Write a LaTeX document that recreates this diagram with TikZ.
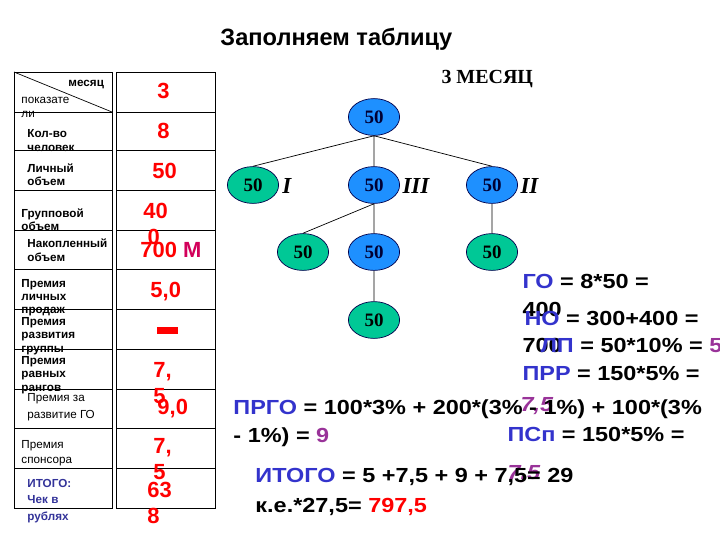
\documentclass[tikz,border=0pt]{standalone}
\usepackage{fontspec}
\setmainfont{Liberation Sans}
\newfontfamily\serifbold{Liberation Serif}
\newfontfamily\formfont[FakeStretch=1.15]{Liberation Sans}
\usetikzlibrary{shapes.geometric}
\definecolor{treeblue}{RGB}{30,144,255}
\definecolor{treegreen}{RGB}{0,200,150}
\definecolor{labelblue}{RGB}{51,51,204}
\definecolor{navy}{RGB}{51,51,153}
\definecolor{purple5}{RGB}{153,51,153}
\definecolor{crimsonM}{RGB}{210,0,90}
\tikzset{
  lbl/.style={anchor=base west,inner sep=0pt,align=left,font=\fontsize{8.3}{9.6}\selectfont},
  val/.style={anchor=base west,inner sep=0pt,align=left,text=red,font=\bfseries\fontsize{15.6}{18.4}\selectfont},
  frm/.style={anchor=base west,inner sep=0pt,font=\formfont\bfseries\fontsize{14.5}{17}\selectfont},
  bubble/.style={ellipse,draw=black!70!blue,line width=0.5pt,minimum width=1.28cm,minimum height=0.92cm,inner sep=0pt,font=\serifbold\bfseries\fontsize{13.5}{14}\selectfont},
  blue50/.style={bubble,fill=treeblue,text=black!80!blue},
  green50/.style={bubble,fill=treegreen},
  rank/.style={anchor=base west,inner sep=0pt,font=\serifbold\bfseries\itshape\fontsize{16.3}{18}\selectfont}
}
\begin{document}
\begin{tikzpicture}[x=0.025cm,y=-0.025cm,line width=0.7pt]
  \useasboundingbox(0,0)rectangle(720,540);
  \node[anchor=base west,inner sep=0pt,font=\bfseries\fontsize{16.8}{20}\selectfont](title)at(220,45){Заполняем таблицу};
  % table
  \draw(14,72)rectangle(112,508)(116,72)rectangle(215,508);
  \foreach \r in {112,150,190,230,269,309,349,389,428,468}
    \draw(14,\r)--(112,\r)(116,\r)--(215,\r);
  \draw[line width=0.5pt](14,72)--(112,112);
  \node[lbl,font=\bfseries\fontsize{8.3}{9.6}\selectfont](month)at(68,86){месяц};
  \node[lbl,font=\fontsize{8.3}{9.9}\selectfont](param)at(21,117){показате\\ли};
  \node[lbl,font=\bfseries\fontsize{8.3}{9.9}\selectfont](people)at(27,151){Кол-во\\человек};
  \node[lbl,font=\bfseries\fontsize{8.3}{9.2}\selectfont](pv)at(27,185){Личный\\объем};
  \node[lbl,font=\bfseries\fontsize{8.3}{9.2}\selectfont](gv)at(21,230){Групповой\\объем};
  \node[lbl,font=\bfseries\fontsize{8.3}{9.9}\selectfont](nv)at(27,261){Накопленный\\объем};
  \node[lbl,font=\bfseries\fontsize{8.3}{9.2}\selectfont](bonus1)at(21,313){Премия\\личных\\продаж};
  \node[lbl,font=\bfseries\fontsize{8.3}{9.6}\selectfont](bonus2)at(21,352){Премия\\развития\\группы};
  \node[lbl,font=\bfseries\fontsize{8.3}{9.6}\selectfont](bonus3)at(21,391){Премия\\равных\\рангов};
  \node[lbl,font=\fontsize{8.3}{12}\selectfont](bonus4)at(27,418){Премия за\\развитие ГО};
  \node[lbl,font=\fontsize{8.3}{10.6}\selectfont](bonus5)at(21,463){Премия\\спонсора};
  \node[lbl,text=navy,font=\bfseries\fontsize{8.3}{11.7}\selectfont](total)at(27,520){ИТОГО:\\Чек в\\рублях};
  \node[val](v1)at(157,98){3};
  \node[val](v2)at(157,138){8};
  \node[val](v3)at(152,178){50};
  \node[val](v4)at(143,244){40\\\hspace*{3pt}0};
  \node[val](v5)at(140,257){700 {\color{crimsonM}М}};
  \node[val](v6)at(150,297){5,0};
  \fill[red](157,327)rectangle(178,334);
  \node[val](v8)at(153,403){7,\\5};
  \node[val](v9)at(157,414){9,0};
  \node[val](v10)at(153,479){7,\\5};
  \node[val](v11)at(147,523){63\\8};
  % tree
  \node[anchor=base west,inner sep=0pt,font=\serifbold\bfseries\fontsize{14.2}{16}\selectfont](head)at(441,83){3 МЕСЯЦ};
  \node[blue50](root)at(374,117){50};
  \node[green50](m1)at(253,185){50};
  \node[blue50](m3)at(374,185){50};
  \node[blue50](m2)at(492,185){50};
  \node[green50](b1)at(303,252){50};
  \node[blue50](b2)at(374,252){50};
  \node[green50](b3)at(492,252){50};
  \node[green50](b4)at(374,320){50};
  \node[rank](r1)at(282,193){I};
  \node[rank](r3)at(402,193){III};
  \node[rank](r2)at(520,193){II};
  \draw[line width=0.5pt](root.south)--(m1.north)(root.south)--(m3.north)(root.south)--(m2.north)
    (m3.south)--(b1.north)(m3.south)--(b2.north)(m2.south)--(b3.north)(b2.south)--(b4.north);
  % formulas
  \node[frm](go)at(522,288){{\color{labelblue}ГО} = 8*50 =};
  \node[frm](go2)at(522,316){400};
  \node[frm](no)at(524,325){{\color{labelblue}НО} = 300+400 =};
  \node[frm](no2)at(522,352){700};
  \node[frm](lp)at(540,352){{\color{labelblue}ЛП} = 50*10\% = {\color{purple5}5}};
  \node[frm](prr)at(522,380){{\color{labelblue}ПРР} = 150*5\% =};
  \node[frm,text=purple5,font=\formfont\bfseries\itshape\fontsize{14.5}{17}\selectfont](prr2)at(520,411){7,5};
  \node[frm](prgo)at(233,414){{\color{labelblue}ПРГО} = 100*3\% + 200*(3\% - 1\%) + 100*(3\%};
  \node[frm](prgo2)at(233,442){- 1\%) = {\color{purple5}9}};
  \node[frm](psp)at(507,441){{\color{labelblue}ПСп} = 150*5\% =};
  \node[frm,text=purple5,font=\formfont\bfseries\itshape\fontsize{14.5}{17}\selectfont](psp2)at(507,479){7,5};
  \node[frm](itogo)at(255,482){{\color{labelblue}ИТОГО} = 5 +7,5 + 9 + 7,5= 29};
  \node[frm](ke)at(255,512){к.е.*27,5= {\color{red}797,5}};
\end{tikzpicture}
\end{document}
